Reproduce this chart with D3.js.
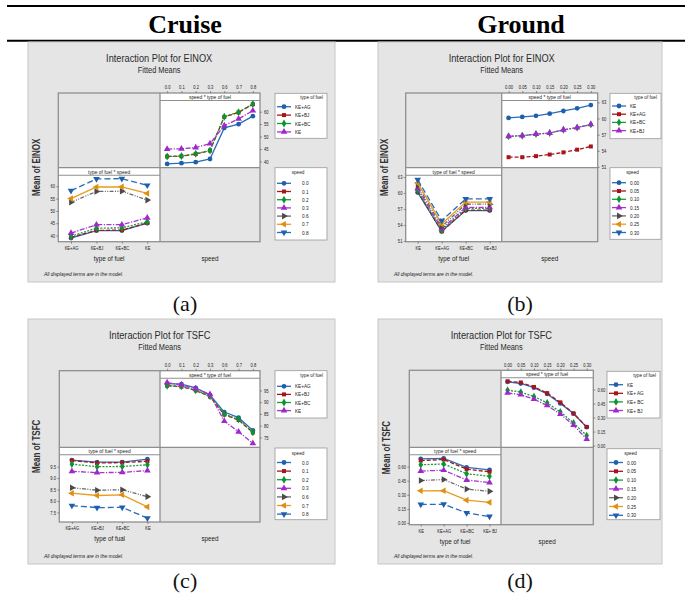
<!DOCTYPE html>
<html>
<head>
<meta charset="utf-8">
<script src="https://cdn.jsdelivr.net/npm/d3@7"></script>
<style>
  html, body { margin: 0; padding: 0; background: #fff; }
  svg { display: block; }
</style>
</head>
<body>
<svg id="fig" width="685" height="598"></svg>
<script>
// ---------------- data ----------------
const cruiseSpeeds = ["0.0", "0.1", "0.2", "0.3", "0.6", "0.7", "0.8"];
const groundSpeeds = ["0.00", "0.05", "0.10", "0.15", "0.20", "0.25", "0.30"];

const cruiseFuels = ["KE+AG", "KE+BJ", "KE+BC", "KE"];
const groundFuels = ["KE", "KE+AG", "KE+BC", "KE+BJ"];
const groundTsfcLegendFuels = ["KE", "KE+ AG", "KE+ BC", "KE+ BJ"];
const groundTsfcAxisFuels = ["KE", "KE+AG", "KE+BC", "KE+ BJ"];

// EINOX fitted means, cruise (one value per speed level)
const einoxCruiseKEAG = [39.0, 39.3, 39.7, 41.0, 53.5, 55.0, 58.2];
const einoxCruiseKEBJ = [42.0, 42.1, 43.0, 44.4, 57.9, 59.7, 63.0];
const einoxCruiseKEBC = [42.0, 42.2, 43.1, 44.4, 58.0, 59.8, 63.1];
const einoxCruiseKE   = [45.0, 45.1, 45.6, 47.2, 54.4, 57.1, 60.4];
const einoxCruiseTicks = [40, 45, 50, 55, 60];

// EINOX fitted means, ground
const einoxGroundKE   = [60.1, 60.3, 60.5, 60.9, 61.4, 61.9, 62.5];
const einoxGroundKEAG = [52.8, 52.8, 53.0, 53.3, 53.7, 54.2, 54.8];
const einoxGroundKEBC = [56.7, 56.8, 57.1, 57.3, 57.9, 58.3, 58.9];
const einoxGroundKEBJ = [56.7, 56.8, 57.1, 57.3, 57.9, 58.3, 58.9];
const einoxGroundTicks = [51, 54, 57, 60, 63];

// TSFC fitted means, cruise
const tsfcCruiseKEAG = [97.9, 97.7, 96.1, 93.0, 85.8, 83.4, 78.0];
const tsfcCruiseKEBJ = [97.0, 96.6, 95.0, 92.4, 84.7, 82.4, 77.1];
const tsfcCruiseKEBC = [97.0, 96.8, 95.1, 92.5, 84.9, 82.7, 77.2];
const tsfcCruiseKE   = [98.3, 97.4, 95.8, 93.3, 81.9, 77.4, 72.5];
const tsfcCruiseTicks = [75, 80, 85, 90, 95];
const tsfcCruiseLeftLabels = ["7.5", "8.0", "8.5", "9.0", "9.5"];

// TSFC fitted means, ground
const tsfcGroundKE   = [0.683, 0.665, 0.620, 0.553, 0.452, 0.343, 0.197];
const tsfcGroundKEAG = [0.688, 0.676, 0.628, 0.562, 0.463, 0.344, 0.200];
const tsfcGroundKEBC = [0.593, 0.573, 0.525, 0.458, 0.361, 0.243, 0.107];
const tsfcGroundKEBJ = [0.565, 0.545, 0.497, 0.430, 0.337, 0.219, 0.069];
const tsfcGroundTicks = [0.00, 0.15, 0.30, 0.45, 0.60];

// ---------------- styling ----------------
const FONT = "'Liberation Sans', Arial, sans-serif";
const SERIF = "'Liberation Serif', 'Times New Roman', serif";
const lineColors   = ["#2a6cb8", "#a8141c", "#13a036", "#a834d2", "#6a6a6a", "#e89c1e", "#2a6cb8"];
const markerColors = ["#1f5fae", "#a8141c", "#0c9430", "#9f28cc", "#4a4a4a", "#e08f10", "#1f5fae"];
const dashes = [null, "4,2", "2,1.4", "5,1.5,1.2,1.5", "4,1.4,1,1.4,1,1.4", null, "6,3"];
const symTypes = [d3.symbolCircle, d3.symbolSquare, d3.symbolDiamond, d3.symbolTriangle,
                  d3.symbolTriangle, d3.symbolTriangle, d3.symbolTriangle];
const symSizes = [18, 16, 18, 19, 19, 19, 19];
const symRot = [0, 0, 0, 0, 90, -90, 180];

const svg = d3.select("#fig");

function txt(g, x, y, s, o = {}) {
  const t = g.append("text")
    .attr("transform", `translate(${x},${y})` + (o.rotate ? ` rotate(${o.rotate})` : "") + ` scale(${o.sx ?? 0.85},1)`)
    .attr("text-anchor", o.anchor || "middle")
    .attr("font-family", o.family || FONT)
    .attr("font-size", o.size || 6)
    .attr("fill", o.fill || "#222")
    .text(s);
  if (o.weight) t.attr("font-weight", o.weight);
  if (o.italic) t.attr("font-style", "italic");
  return t;
}

function marker(g, x, y, i) {
  g.append("path")
    .attr("d", d3.symbol(symTypes[i], symSizes[i])())
    .attr("transform", `translate(${x},${y}) rotate(${symRot[i]})`)
    .attr("fill", markerColors[i]);
}

function series(g, pts, i) {
  g.append("path")
    .datum(pts)
    .attr("d", d3.line().x(d => d[0]).y(d => d[1]))
    .attr("fill", "none")
    .attr("stroke", lineColors[i])
    .attr("stroke-width", 1.3)
    .attr("stroke-dasharray", dashes[i]);
  pts.forEach(p => marker(g, p[0], p[1], i));
}

function styleAxis(ax, size) {
  ax.select(".domain").remove();
  ax.attr("font-family", FONT).attr("font-size", size);
  ax.selectAll(".tick line").attr("stroke", "#555").attr("stroke-width", 0.6);
  ax.selectAll(".tick text").attr("fill", "#222").attr("transform", "scale(0.82,1)");
}

// ---------------- header ----------------
svg.append("line").attr("x1", 7).attr("x2", 685).attr("y1", 6).attr("y2", 6)
  .attr("stroke", "#000").attr("stroke-width", 2.2);
svg.append("line").attr("x1", 7).attr("x2", 685).attr("y1", 40.8).attr("y2", 40.8)
  .attr("stroke", "#000").attr("stroke-width", 2);
txt(svg, 185, 33, "Cruise", { family: SERIF, size: 26, weight: "bold", sx: 1, fill: "#000" });
txt(svg, 521, 33, "Ground", { family: SERIF, size: 26, weight: "bold", sx: 1, fill: "#000" });

// ---------------- panels ----------------
const panels = [
  {
    box: [28, 42, 335, 282], grid: { l: 58.3, m: 160, r: 260, t: 93, mid: 167.7, b: 241.7 },
    title: "Interaction Plot for EINOX", ylabel: "Mean of EINOX", ylabelX: 40,
    speeds: cruiseSpeeds, fuels: cruiseFuels, legendFuels: cruiseFuels, axisFuels: cruiseFuels,
    rows: [einoxCruiseKEAG, einoxCruiseKEBJ, einoxCruiseKEBC, einoxCruiseKE],
    domain: [37.5, 64.5], ticks: einoxCruiseTicks,
    rightFmt: d3.format("d"), leftFmt: d3.format("d"),
    xlab: "type of fuel", trStrip: "speed * type of fuel", blStrip: "type of fuel * speed",
    fuelBox: [275, 93.3, 327, 138.3], speedBox: [275, 167.7, 327, 240],
    fuelItems: [106.7, 8.4], speedItems: [183.3, 8.2], speedLabelDx: 27,
    caption: "(a)", capX: 185, capY: 311
  },
  {
    box: [378, 42, 662, 282], grid: { l: 405.7, m: 501.7, r: 597.7, t: 93, mid: 167.7, b: 241.7 },
    title: "Interaction Plot for EINOX", ylabel: "Mean of EINOX", ylabelX: 388,
    speeds: groundSpeeds, fuels: groundFuels, legendFuels: groundFuels, axisFuels: groundFuels,
    rows: [einoxGroundKE, einoxGroundKEAG, einoxGroundKEBC, einoxGroundKEBJ],
    domain: [50.85, 63.35], ticks: einoxGroundTicks,
    rightFmt: d3.format("d"), leftFmt: d3.format("d"),
    xlab: "type of fuel", trStrip: "speed * type of fuel", blStrip: "type of fuel * speed",
    fuelBox: [610, 93.3, 661, 138.7], speedBox: [610, 167.7, 661, 239.3],
    fuelItems: [106, 8.2], speedItems: [182.7, 8.3], speedLabelDx: 20,
    caption: "(b)", capX: 520, capY: 311
  },
  {
    box: [28, 319, 335, 564], grid: { l: 59.3, m: 160, r: 260, t: 370.7, mid: 447.3, b: 522 },
    title: "Interaction Plot for TSFC", ylabel: "Mean of TSFC", ylabelX: 40,
    speeds: cruiseSpeeds, fuels: cruiseFuels, legendFuels: cruiseFuels, axisFuels: cruiseFuels,
    rows: [tsfcCruiseKEAG, tsfcCruiseKEBJ, tsfcCruiseKEBC, tsfcCruiseKE],
    domain: [70.8, 100.2], ticks: tsfcCruiseTicks,
    rightFmt: d3.format("d"), leftFmt: (d, i) => tsfcCruiseLeftLabels[i],
    xlab: "type of fual", trStrip: "speed * type of fuel", blStrip: "type of fuel * speed",
    fuelBox: [275, 370.7, 327, 418], speedBox: [275, 448, 327, 519.7],
    fuelItems: [386.3, 8.1], speedItems: [462.5, 8.6], speedLabelDx: 27,
    caption: "(c)", capX: 185, capY: 588
  },
  {
    box: [378, 319, 662, 564], grid: { l: 409.3, m: 501, r: 593.3, t: 370.3, mid: 447.3, b: 524.7 },
    title: "Interaction Plot for TSFC", ylabel: "Mean of TSFC", ylabelX: 390,
    speeds: groundSpeeds, fuels: groundFuels, legendFuels: groundTsfcLegendFuels, axisFuels: groundTsfcAxisFuels,
    rows: [tsfcGroundKE, tsfcGroundKEAG, tsfcGroundKEBC, tsfcGroundKEBJ],
    domain: [-0.018, 0.726], ticks: tsfcGroundTicks,
    rightFmt: d3.format(".2f"), leftFmt: d3.format(".2f"),
    xlab: "type of fuel", trStrip: "speed * type of fuel", blStrip: "type of fuel * speed",
    fuelBox: [607, 371.3, 660, 418], speedBox: [607, 448.7, 660, 519.7],
    fuelItems: [384.7, 8.6], speedItems: [462.5, 8.8], speedLabelDx: 20,
    caption: "(d)", capX: 520, capY: 588
  }
];

function drawPanel(p) {
  const g = svg.append("g");
  const [bx0, by0, bx1, by1] = p.box;
  const G = p.grid;
  const strip = 7.5;

  g.append("rect").attr("x", bx0).attr("y", by0).attr("width", bx1 - bx0).attr("height", by1 - by0)
    .attr("fill", "#e5e5e5").attr("stroke", "#c6c6c6").attr("stroke-width", 1);

  // titles
  const cx = (G.l + G.r) / 2;
  txt(g, cx, by0 + 20, p.title, { size: 11, fill: "#2a2a2a", sx: 0.84 });
  txt(g, cx, by0 + 30.7, "Fitted Means", { size: 9.5, fill: "#2a2a2a", sx: 0.78 });

  // cell backgrounds: top-right and bottom-left carry the plots
  const cells = [
    { x0: G.m, x1: G.r, y0: G.t, y1: G.mid, label: p.trStrip },
    { x0: G.l, x1: G.m, y0: G.mid, y1: G.b, label: p.blStrip }
  ];
  cells.forEach(c => {
    g.append("rect").attr("x", c.x0).attr("y", c.y0).attr("width", c.x1 - c.x0).attr("height", c.y1 - c.y0)
      .attr("fill", "#fff");
    g.append("line").attr("x1", c.x0).attr("x2", c.x1).attr("y1", c.y0 + strip).attr("y2", c.y0 + strip)
      .attr("stroke", "#8f8f8f").attr("stroke-width", 1.1);
    txt(g, (c.x0 + c.x1) / 2, c.y0 + 5.8, c.label, { size: 5.8, sx: 0.85 });
  });

  // grid frame
  g.append("rect").attr("x", G.l).attr("y", G.t).attr("width", G.r - G.l).attr("height", G.b - G.t)
    .attr("fill", "none").attr("stroke", "#8f8f8f").attr("stroke-width", 1.3);
  g.append("line").attr("x1", G.m).attr("x2", G.m).attr("y1", G.t).attr("y2", G.b)
    .attr("stroke", "#8f8f8f").attr("stroke-width", 1.3);
  g.append("line").attr("x1", G.l).attr("x2", G.r).attr("y1", G.mid).attr("y2", G.mid)
    .attr("stroke", "#8f8f8f").attr("stroke-width", 1.3);

  // scales
  const xs = d3.scalePoint().domain(p.speeds).range([G.m, G.r]).padding(0.5);
  const xf = d3.scalePoint().domain(p.fuels).range([G.l, G.m]).padding(0.5);
  const yTR = d3.scaleLinear().domain(p.domain).range([G.mid, G.t + strip]);
  const yBL = d3.scaleLinear().domain(p.domain).range([G.b, G.mid + strip]);

  // axes
  g.append("g").attr("transform", `translate(0,${G.t})`)
    .call(d3.axisTop(xs).tickSize(2).tickPadding(1.8)).call(ax => styleAxis(ax, 5));
  g.append("g").attr("transform", `translate(${G.r},0)`)
    .call(d3.axisRight(yTR).tickValues(p.ticks).tickFormat(p.rightFmt).tickSize(2).tickPadding(3))
    .call(ax => styleAxis(ax, 5));
  g.append("g").attr("transform", `translate(${G.l},0)`)
    .call(d3.axisLeft(yBL).tickValues(p.ticks).tickFormat(p.leftFmt).tickSize(2).tickPadding(2))
    .call(ax => styleAxis(ax, 5));
  const xfLabel = d3.scaleOrdinal().domain(p.fuels).range(p.axisFuels);
  g.append("g").attr("transform", `translate(0,${G.b})`)
    .call(d3.axisBottom(xf).tickFormat(xfLabel).tickSize(2).tickPadding(2.5))
    .call(ax => styleAxis(ax, 5));

  // top-right cell: one line per fuel across speeds
  p.rows.forEach((row, i) => {
    series(g, row.map((v, j) => [xs(p.speeds[j]), yTR(v)]), i);
  });
  // bottom-left cell: one line per speed across fuels
  p.speeds.forEach((s, j) => {
    series(g, p.fuels.map((f, i) => [xf(f), yBL(p.rows[i][j])]), j);
  });

  // axis titles
  const xlY = G.b + 18.8;
  txt(g, (G.l + G.m) / 2, xlY, p.xlab, { size: 7.5, sx: 0.84 });
  txt(g, (G.m + G.r) / 2, xlY, "speed", { size: 7.5, sx: 0.84 });
  txt(g, p.ylabelX, (G.t + G.b) / 2, p.ylabel, { size: 10, weight: "bold", rotate: -90, sx: 0.8, fill: "#333" });
  txt(g, bx0 + 16, by1 - 6, "All displayed terms are in the model.", { size: 5.6, italic: true, anchor: "start", sx: 0.88 });

  // legends
  function legend(box, title, labels, items, labelDx, titleRight) {
    const [x0, y0, x1, y1] = box;
    g.append("rect").attr("x", x0).attr("y", y0).attr("width", x1 - x0).attr("height", y1 - y0)
      .attr("fill", "#fff").attr("stroke", "#9a9a9a").attr("stroke-width", 0.8);
    if (titleRight) txt(g, x1 - 4, y0 + 6, title, { size: 5.5, anchor: "end" });
    else txt(g, (x0 + x1) / 2 - 3, y0 + 6.5, title, { size: 5.5 });
    labels.forEach((lab, i) => {
      const y = items[0] + i * items[1];
      g.append("line").attr("x1", x0 + 2).attr("x2", x0 + 16).attr("y1", y).attr("y2", y)
        .attr("stroke", lineColors[i]).attr("stroke-width", 1.3);
      marker(g, x0 + 9, y, i);
      txt(g, x0 + labelDx, y + 2, lab, { size: 5.5, anchor: "start" });
    });
  }
  legend(p.fuelBox, "type of fuel", p.legendFuels, p.fuelItems, 20, true);
  legend(p.speedBox, "speed", p.speeds, p.speedItems, p.speedLabelDx, false);

  // sub-figure caption
  txt(svg, p.capX, p.capY, p.caption, { family: SERIF, size: 22, sx: 1, fill: "#111" });
}

panels.forEach(drawPanel);
</script>
</body>
</html>
